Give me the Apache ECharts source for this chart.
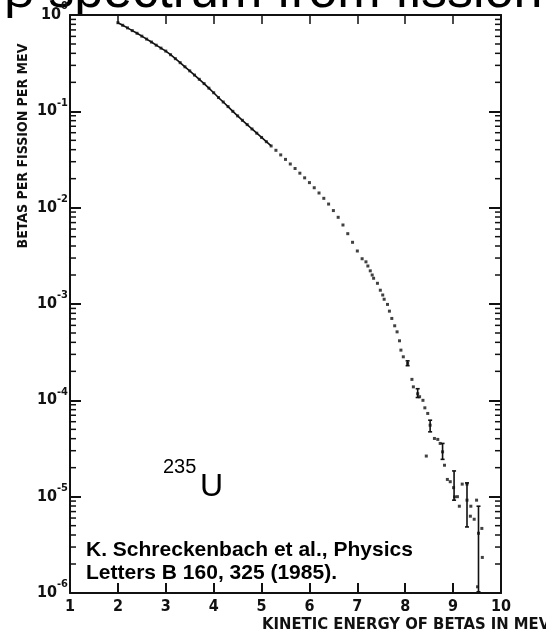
<!DOCTYPE html>
<html><head><meta charset="utf-8">
<script src="https://cdn.jsdelivr.net/npm/echarts@6/dist/echarts.min.js"></script>
<style>html,body{margin:0;padding:0;background:#fff}#chart{width:546px;height:637px}</style>
</head><body><div id="chart"></div>
<script>
// 235U fission beta spectrum: betas per fission per MeV vs kinetic energy (MeV)
const curveEnergy = [2.0,2.1,2.2,2.3,2.4,2.5,2.6,2.7,2.8,2.9,3.0,3.1,3.2,3.3,3.4,3.5,3.6,3.7,3.8,3.9,
  4.0,4.1,4.2,4.3,4.4,4.5,4.6,4.7,4.8,4.9,5.0,5.1,5.2,5.3,5.4,5.5,5.6,5.7,5.8,5.9,
  6.0,6.1,6.2,6.3,6.4,6.5,6.6,6.7,6.8,6.9,7.0,7.1];
const curveValue = [0.832,0.782,0.735,0.689,0.646,0.603,0.562,0.524,0.486,0.453,0.422,0.387,0.352,0.320,0.290,0.263,0.238,0.215,0.194,0.174,
  0.156,0.139,0.125,0.112,0.100,0.0897,0.0807,0.0728,0.0656,0.0593,0.0536,0.0484,0.0437,0.0394,0.0353,0.0317,0.0284,0.0255,0.0228,0.0204,
  0.0182,0.0161,0.0142,0.0125,0.0109,0.00933,0.00794,0.00661,0.00537,0.00437,0.00355,0.00295];

const tailEnergy = [7.18,7.22,7.27,7.31,7.34,7.42,7.48,7.53,7.56,7.63,7.67,7.72,7.78,7.83,7.88,7.91,7.96,8.05,
  8.14,8.17,8.26,8.30,8.37,8.41,8.47,8.52,8.61,8.68,8.73,8.78,8.82,8.44,8.88,8.94,9.01,9.03,9.09,9.13,
  9.19,9.29,9.29,9.37,9.36,9.44,9.49,9.53,9.60,9.61,9.51];
const tailValue = [0.00274,0.00248,0.00221,0.00200,0.00185,0.00164,0.00139,0.00124,0.00112,0.00099,0.000843,0.000708,0.000594,0.000514,0.000415,0.000332,0.000283,0.000242,
  0.000165,0.000138,0.000117,0.000109,0.000100,0.0000836,0.0000731,0.0000552,0.0000402,0.0000393,0.0000357,0.0000292,0.0000212,0.0000264,0.0000151,0.0000143,0.0000124,0.00000995,0.0000100,0.00000796,
  0.0000135,0.0000135,0.0000092,0.00000796,0.00000627,0.00000583,0.0000092,0.00000417,0.00000468,0.00000234,0.00000116];

// error bars on the high-energy end
const errEnergy = [8.05,8.26,8.52,8.78,9.02,9.29,9.53];
const errHigh = [0.000257,0.000132,0.0000622,0.0000357,0.0000185,0.0000139,0.00000796];
const errLow  = [0.000229,0.000107,0.0000471,0.0000244,0.0000092,0.00000485,0.00000103];

const xTickLabels = ['1','2','3','4','5','6','7','8','9','10'];
const yDecades = [1e-6,1e-5,1e-4,1e-3,1e-2,1e-1,1];
const yExponents = ['-6','-5','-4','-3','-2','-1','0'];

const pair = (xs, ys) => xs.map((x, i) => [x, ys[i]]);
const minorTicks = [];
for (let d = 0; d < yDecades.length - 1; d++) {
  for (let k = 2; k <= 9; k++) minorTicks.push([1, k * yDecades[d]]);
}

const ink = '#111';
const scanFont = '"DejaVu Sans Condensed","Liberation Sans Narrow","DejaVu Sans",sans-serif';

const chart = echarts.init(document.getElementById('chart'), null, {renderer: 'canvas'});
chart.setOption({
  animation: false,
  backgroundColor: '#fff',
  grid: {left: 70, right: 45, top: 15, bottom: 44},
  xAxis: [{
    type: 'value', min: 1, max: 10, interval: 1, z: 5,
    axisLine: {lineStyle: {color: ink, width: 2}},
    axisTick: {inside: true, length: 10, lineStyle: {color: ink, width: 2}},
    splitLine: {show: false},
    axisLabel: {margin: 6, color: ink, fontSize: 16, fontWeight: 'bold', fontFamily: scanFont,
      formatter: v => xTickLabels[Math.round(v) - 1] || ''}
  }, {
    type: 'value', min: 1, max: 10, interval: 1, position: 'top', z: 5,
    axisLine: {lineStyle: {color: ink, width: 2}},
    axisTick: {inside: true, length: 9, lineStyle: {color: ink, width: 1.5}},
    splitLine: {show: false}, axisLabel: {show: false}
  }],
  yAxis: [{
    type: 'log', logBase: 10, min: 1e-6, max: 1, z: 5,
    axisLine: {show: true, lineStyle: {color: ink, width: 2}},
    axisTick: {show: true, inside: true, length: 11, lineStyle: {color: ink, width: 2}},
    splitLine: {show: false},
    axisLabel: {
      margin: 2, color: ink,
      formatter: v => {
        const i = yDecades.findIndex(d => Math.abs(Math.log10(d) - Math.log10(v)) < 1e-6);
        return i < 0 ? '' : '{b|10}{s|' + yExponents[i] + '}';
      },
      rich: {
        b: {fontSize: 16, fontWeight: 'bold', fontFamily: scanFont, color: ink},
        s: {fontSize: 11, fontWeight: 'bold', fontFamily: scanFont, color: ink, padding: [0, 0, 17, 0]}
      }
    }
  }, {
    type: 'log', logBase: 10, min: 1e-6, max: 1, position: 'right', z: 5,
    axisLine: {show: true, lineStyle: {color: ink, width: 2}},
    axisTick: {show: true, inside: true, length: 12, lineStyle: {color: ink, width: 2}},
    splitLine: {show: false}, axisLabel: {show: false}
  }],
  series: [{
    // minor log ticks on both vertical edges
    type: 'custom', z: 5, silent: true, clip: false,
    data: minorTicks,
    renderItem: (params, api) => {
      const l = api.coord([1, api.value(1)]);
      const r = api.coord([10, api.value(1)]);
      const st = {stroke: ink, lineWidth: 1.5};
      return {type: 'group', children: [
        {type: 'line', shape: {x1: l[0], y1: l[1], x2: l[0] + 6, y2: l[1]}, style: st},
        {type: 'line', shape: {x1: r[0] - 6, y1: r[1], x2: r[0], y2: r[1]}, style: st}
      ]};
    }
  }, {
    type: 'line', z: 6, silent: true, showSymbol: false,
    data: pair(curveEnergy, curveValue).filter(p => p[0] <= 5.2),
    lineStyle: {color: ink, width: 1.6}
  }, {
    type: 'scatter', z: 7, silent: true, symbol: 'rect', symbolSize: 3,
    data: pair(curveEnergy, curveValue).concat(pair(tailEnergy, tailValue)),
    itemStyle: {color: ink}
  }, {
    type: 'custom', z: 7, silent: true,
    data: errEnergy.map((e, i) => [e, errLow[i], errHigh[i]]),
    renderItem: (params, api) => {
      const lo = api.coord([api.value(0), api.value(1)]);
      const hi = api.coord([api.value(0), api.value(2)]);
      const st = {stroke: ink, lineWidth: 1.6};
      return {type: 'group', children: [
        {type: 'line', shape: {x1: lo[0], y1: lo[1], x2: hi[0], y2: hi[1]}, style: st},
        {type: 'line', shape: {x1: hi[0] - 2, y1: hi[1], x2: hi[0] + 2, y2: hi[1]}, style: st},
        {type: 'line', shape: {x1: lo[0] - 2, y1: lo[1], x2: lo[0] + 2, y2: lo[1]}, style: st}
      ]};
    }
  }],
  graphic: [
    {type: 'text', z: 1, left: 4, top: -33, style: {text: 'β spectrum from fission', font: '52px "Liberation Sans", Arial, sans-serif', fill: '#000'}},
    {type: 'rect', z: 2, shape: {x: 62, y: 14.5, width: 484, height: 30}, style: {fill: '#fff'}},
    {type: 'text', z: 10, x: 23, y: 146, rotation: Math.PI / 2,
      style: {text: 'BETAS PER FISSION PER MEV', font: 'bold 14px ' + scanFont, fill: ink, align: 'center', verticalAlign: 'middle'}},
    {type: 'text', z: 10, x: 262, y: 625,
      style: {text: 'KINETIC ENERGY OF BETAS IN MEV', font: 'bold 16.5px ' + scanFont, fill: ink, align: 'left', verticalAlign: 'middle'}},
    {type: 'text', z: 10, x: 163, y: 467,
      style: {text: '235', font: '20px "Liberation Sans", Arial, sans-serif', fill: '#000', align: 'left', verticalAlign: 'middle'}},
    {type: 'text', z: 10, x: 200, y: 487,
      style: {text: 'U', font: '32px "Liberation Sans", Arial, sans-serif', fill: '#000', align: 'left', verticalAlign: 'middle'}},
    {type: 'text', z: 10, x: 86, y: 550,
      style: {text: 'K. Schreckenbach et al., Physics', font: 'bold 21px "Liberation Sans", Arial, sans-serif', fill: '#000', align: 'left', verticalAlign: 'middle'}},
    {type: 'text', z: 10, x: 86, y: 573,
      style: {text: 'Letters B 160, 325 (1985).', font: 'bold 21px "Liberation Sans", Arial, sans-serif', fill: '#000', align: 'left', verticalAlign: 'middle'}}
  ]
});
</script></body></html>
